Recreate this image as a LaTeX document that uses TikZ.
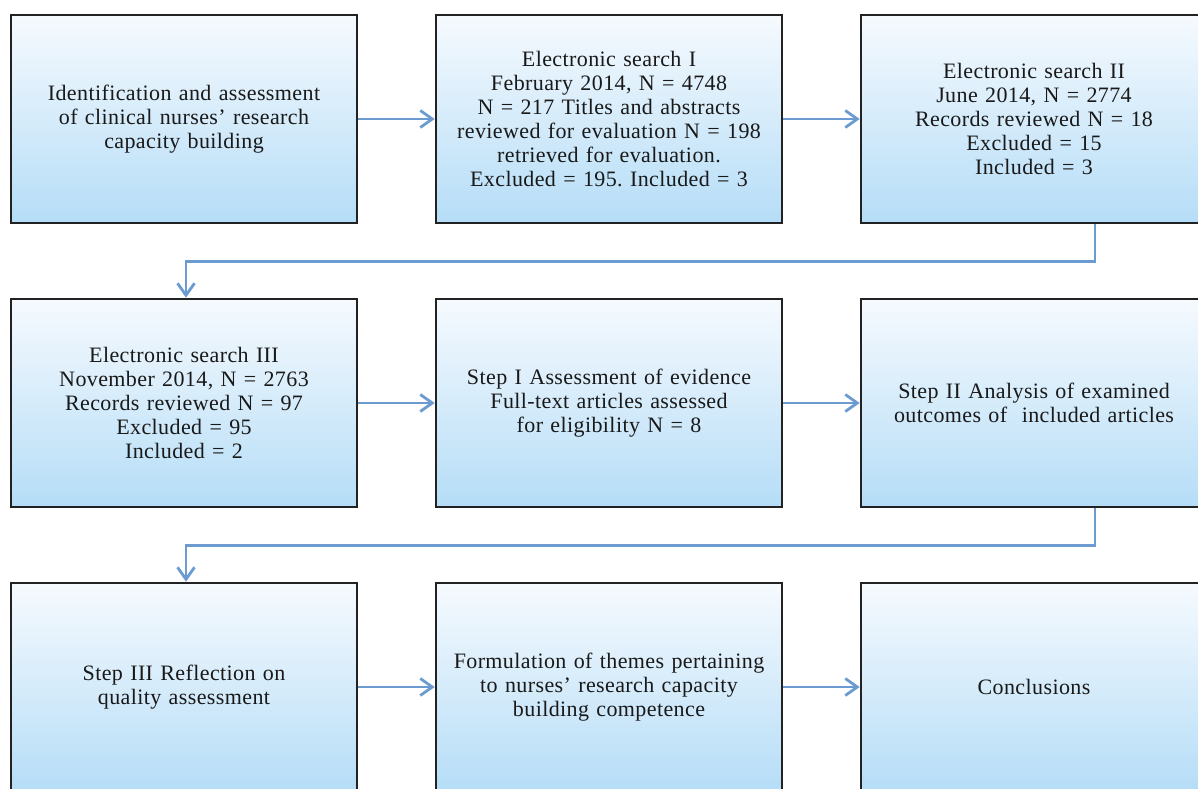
\documentclass[tikz,border=0pt]{standalone}
\usepackage{fontspec}
\setmainfont{Liberation Serif}[LetterSpace=1.8]
\usetikzlibrary{arrows.meta}
\definecolor{boxtop}{HTML}{F6FAFE}
\definecolor{boxbot}{HTML}{B5DDF7}
\definecolor{arrowblue}{HTML}{6C9BD2}
\definecolor{border}{HTML}{222222}
\tikzset{
  stepbox/.style={draw=border, line width=2.6pt, top color=boxtop, bottom color=boxbot,
    minimum width=346pt, minimum height=208pt, text width=344pt, align=center,
    inner sep=0pt, font=\fontsize{22}{24}\selectfont\frenchspacing, text=black!90},
  arr/.style={draw=arrowblue, line width=2.8pt, -{Straight Barb[length=12pt,width=17pt,line width=2.8pt]}}
}
\begin{document}
\begin{tikzpicture}[x=1pt,y=1pt]
\useasboundingbox (0,0) rectangle (1198,788);
\fill[white] (0,0) rectangle (1198,788);
\node[stepbox] (b1) at (184,669) {Identification and assessment\\of clinical nurses’ research\\capacity building};
\node[stepbox] (b2) at (609,669) {Electronic search I\\February 2014, N = 4748\\N = 217 Titles and abstracts\\reviewed for evaluation N = 198\\retrieved for evaluation.\\Excluded = 195. Included = 3};
\node[stepbox] (b3) at (1034,669) {Electronic search II\\June 2014, N = 2774\\Records reviewed N = 18\\Excluded = 15\\Included = 3};
\node[stepbox] (b4) at (184,385) {Electronic search III\\November 2014, N = 2763\\Records reviewed N = 97\\Excluded = 95\\Included = 2};
\node[stepbox] (b5) at (609,385) {Step I Assessment of evidence\\Full-text articles assessed\\for eligibility N = 8};
\node[stepbox] (b6) at (1034,385) {Step II Analysis of examined\\outcomes of~ included articles};
\node[stepbox] (b7) at (184,101) {Step III Reflection on\\quality assessment};
\node[stepbox] (b8) at (609,101) {Formulation of themes pertaining\\to nurses’ research capacity\\building competence};
\node[stepbox] (b9) at (1034,101) {Conclusions};
\draw[arr] (b1.east) -- (b2.west);
\draw[arr] (b2.east) -- (b3.west);
\draw[arr] (b4.east) -- (b5.west);
\draw[arr] (b5.east) -- (b6.west);
\draw[arr] (b7.east) -- (b8.west);
\draw[arr] (b8.east) -- (b9.west);
\draw[arr] ([xshift=61pt]b3.south) -- ++(0,-37) -| ([xshift=2pt]b4.north);
\draw[arr] ([xshift=61pt]b6.south) -- ++(0,-37) -| ([xshift=2pt]b7.north);
\end{tikzpicture}
\end{document}
